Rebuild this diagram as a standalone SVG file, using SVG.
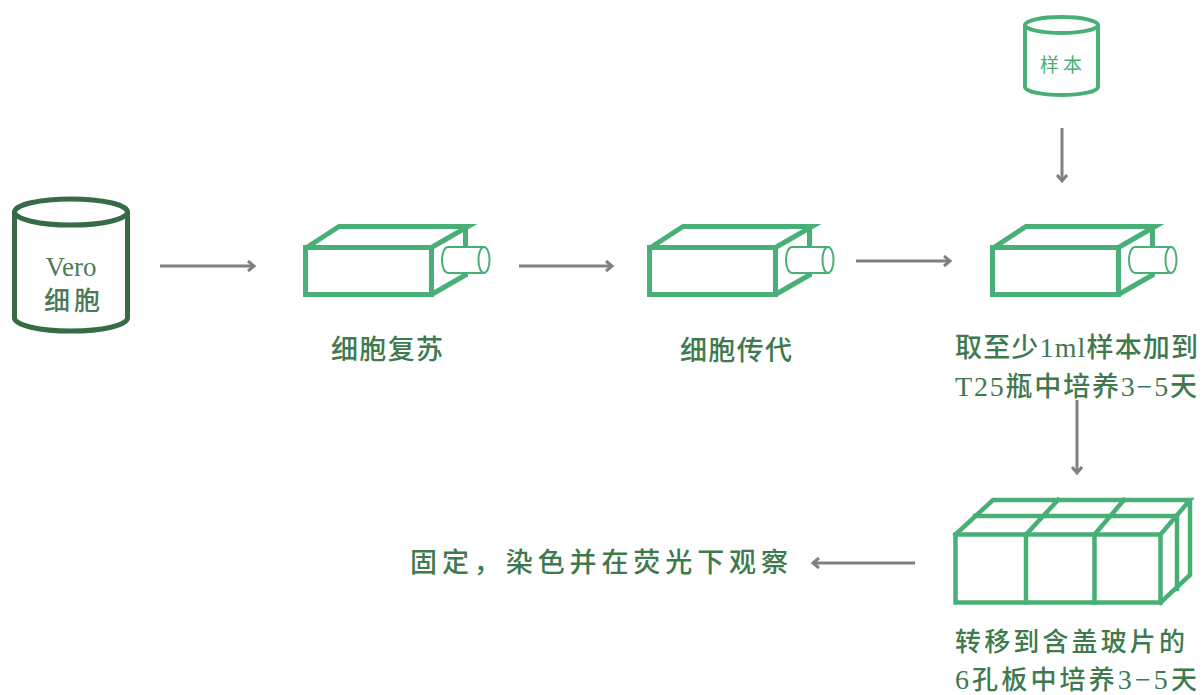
<svg xmlns="http://www.w3.org/2000/svg" width="1203" height="695" viewBox="0 0 1203 695">
  <style>
    .lbl { font-family: "Noto Sans CJK SC", "Liberation Serif", serif; fill: #3f7a4e; font-size: 27px; font-weight: 500; }
    .sm { font-size: 26px; }
    .lat { font-family: "Liberation Serif", serif; font-size: 28px; font-weight: 400; }
    .flask { fill: none; stroke: #48b077; stroke-width: 5; stroke-linejoin: miter; }
    .tube { fill: #ffffff; stroke: #48b077; stroke-width: 2; }
    .plate { fill: none; stroke: #48b077; stroke-width: 4.5; stroke-linecap: square; }
    .conn { fill: none; stroke: #808080; stroke-width: 3; marker-end: url(#head); }
  </style>
  <defs>
    <marker id="head" markerUnits="userSpaceOnUse" markerWidth="14" markerHeight="14" refX="9" refY="6" orient="auto">
      <path d="M3,1 L9,6 L3,11" fill="none" stroke="#808080" stroke-width="3"/>
    </marker>
    <!-- culture flask drawn from the top-left corner of its front face -->
    <g id="flaskShape">
      <rect class="flask" x="2.5" y="2.5" width="126" height="47"/>
      <path class="flask" d="M0,3 L3,3 L36,-18.5 L165,-18.5 L128.5,2.5 M162.5,-18.5 L162.5,30 L128.5,49.5"/>
      <path class="tube" d="M181,2 L145,2 A6,13 0 0 0 145,28 L181,28"/>
      <ellipse class="tube" cx="181" cy="15" rx="5.5" ry="13"/>
    </g>
  </defs>

  <g id="vero">
    <path d="M14.5,212 V318 A56.5,13 0 0 0 127.5,318 V212" fill="#ffffff" stroke="#376b45" stroke-width="5"/>
    <ellipse cx="71" cy="212" rx="56.5" ry="13" fill="#ffffff" stroke="#376b45" stroke-width="5"/>
    <text x="71" y="276" text-anchor="middle" font-family="Liberation Serif, serif" font-size="27" fill="#4a7a56">Vero</text>
    <text x="44" y="310" textLength="56" lengthAdjust="spacing" font-family="Noto Sans CJK SC, sans-serif" font-size="26" font-weight="500" fill="#4a7a56">细胞</text>
  </g>

  <g id="revive">
    <use href="#flaskShape" transform="translate(303,245)"/>
    <text class="lbl" x="331" y="359" textLength="112" lengthAdjust="spacing">细胞复苏</text>
  </g>

  <g id="passage">
    <use href="#flaskShape" transform="translate(647,245)"/>
    <text class="lbl" x="680" y="360" textLength="112" lengthAdjust="spacing">细胞传代</text>
  </g>

  <g id="sample">
    <path d="M1025,25 V87 A36.5,8 0 0 0 1098,87 V25" fill="#ffffff" stroke="#48b077" stroke-width="4"/>
    <ellipse cx="1061.5" cy="25" rx="36.5" ry="8" fill="#ffffff" stroke="#48b077" stroke-width="4"/>
    <text x="1040" y="72" textLength="42" lengthAdjust="spacing" font-family="Noto Sans CJK SC, sans-serif" font-size="19" fill="#48b077">样本</text>
  </g>

  <g id="inoculate">
    <use href="#flaskShape" transform="translate(990,245)"/>
    <text class="lbl" x="955" y="357" textLength="243" lengthAdjust="spacing">取至少<tspan class="lat">1ml</tspan>样本加到</text>
    <text class="lbl" x="955" y="396" textLength="242" lengthAdjust="spacing"><tspan class="lat">T25</tspan>瓶中培养<tspan class="lat">3−5</tspan>天</text>
  </g>

  <g id="plate">
    <rect class="plate" x="955.5" y="534.5" width="205" height="68"/>
    <path class="plate" d="M1026,534.5 V602.5 M1094.5,534.5 V602.5"/>
    <path class="plate" d="M955.5,534.5 L993,500 L1190,500 L1160.5,534.5 M1190,500 L1190,575 L1160.5,602.5"/>
    <path class="plate" d="M975,516 L1177,516 L1177,589 M1026,534.5 L1058,500 M1094.5,534.5 L1124,500"/>
    <text class="lbl sm" x="955" y="651" textLength="230" lengthAdjust="spacing">转移到含盖玻片的</text>
    <text class="lbl sm" x="955" y="689" textLength="242" lengthAdjust="spacing"><tspan class="lat">6</tspan>孔板中培养<tspan class="lat">3−5</tspan>天</text>
  </g>

  <g id="observe">
    <text class="lbl" x="410" y="572" textLength="378" lengthAdjust="spacing">固定，染色并在荧光下观察</text>
  </g>

  <g id="connectors">
    <line class="conn" x1="160" y1="266" x2="254" y2="266"/>
    <line class="conn" x1="519" y1="266" x2="612" y2="266"/>
    <line class="conn" x1="856" y1="261" x2="950" y2="261"/>
    <line class="conn" x1="1062" y1="128" x2="1062" y2="181"/>
    <line class="conn" x1="1077" y1="400" x2="1077" y2="473"/>
    <line class="conn" x1="915" y1="563" x2="813" y2="563"/>
  </g>
</svg>
